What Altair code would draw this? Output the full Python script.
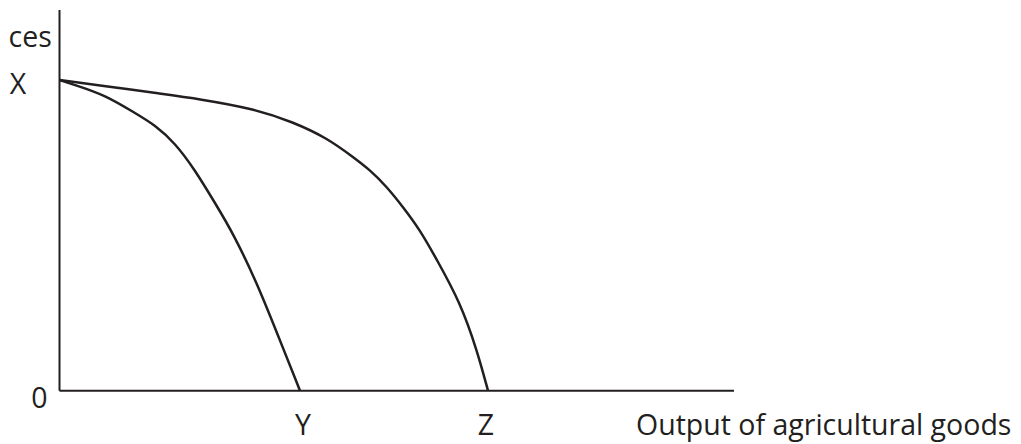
import altair as alt
import pandas as pd

# Production possibility curves (units: drawing units measured from the origin)
inner_x = [0, 15.5, 45.5, 75.5, 95.5, 115.5, 135.5, 155.5, 173.5, 197.5, 217.5, 240.5]
inner_y = [310.7, 305.7, 295.7, 277.7, 265.7, 247.7, 220.7, 187.7, 157.7, 107.7, 57.7, 0]

outer_x = [0, 45.5, 95.5, 140.5, 195.5, 233.5, 267.5, 293.5, 310.5, 327.5, 343.5, 360.5, 377.5, 400.5, 417.5, 428.5]
outer_y = [310.7, 304.7, 297.7, 291.7, 281.7, 268.7, 252.7, 233.7, 220.7, 203.7, 183.7, 160.7, 130.7, 88.7, 40.7, 0]

# axes extents
axis_x_end = 674.5
axis_y_end = 380.7

# labels ("ces" is the visible tail of the cropped vertical-axis title)
label_text = ["ces", "X", "0", "Y", "Z", "Output of agricultural goods"]
label_x = [-51.0, -41.5, -20, 243.5, 426.5, 576.5]
label_y = [343.7, 296.7, -17.3, -44.0, -44.0, -44.0]
label_align = ["left", "center", "center", "center", "center", "left"]

INK = "#231f20"
XS = alt.Scale(domain=[-51.5, 953.5], nice=False, zero=False)
YS = alt.Scale(domain=[-53.3, 382.7], nice=False, zero=False)

curves = pd.DataFrame(
    {"x": inner_x + outer_x,
     "y": inner_y + outer_y,
     "curve": ["inner"] * len(inner_x) + ["outer"] * len(outer_x),
     "order": list(range(len(inner_x))) + list(range(len(outer_x)))}
)

axes = pd.DataFrame({"x": [0, 0], "y": [0, 0], "x2": [0, axis_x_end], "y2": [axis_y_end, 0]})

labels = pd.DataFrame({"t": label_text, "x": label_x, "y": label_y, "a": label_align})

axis_layer = alt.Chart(axes).mark_rule(color=INK, strokeWidth=2).encode(
    x=alt.X("x:Q", scale=XS, axis=None),
    y=alt.Y("y:Q", scale=YS, axis=None),
    x2="x2:Q",
    y2="y2:Q",
)

curve_layer = alt.Chart(curves).mark_line(
    color=INK, strokeWidth=2.5, interpolate="basis"
).encode(
    x=alt.X("x:Q", scale=XS, axis=None),
    y=alt.Y("y:Q", scale=YS, axis=None),
    detail="curve:N",
    order="order:Q",
)

text_layers = []
for al in ["left", "center", "right"]:
    sub = labels[labels["a"] == al]
    if len(sub) == 0:
        continue
    text_layers.append(
        alt.Chart(sub).mark_text(
            align=al, baseline="alphabetic", font="Open Sans", fontSize=28.5, color=INK
        ).encode(
            x=alt.X("x:Q", scale=XS, axis=None),
            y=alt.Y("y:Q", scale=YS, axis=None),
            text="t:N",
        )
    )

chart = alt.layer(axis_layer, curve_layer, *text_layers).properties(
    width=1005,
    height=436,
    autosize=alt.AutoSizeParams(type="none"),
    padding=0,
).configure_view(stroke=None)

chart.save("out.html", embed_options={"renderer": "svg", "actions": False})
